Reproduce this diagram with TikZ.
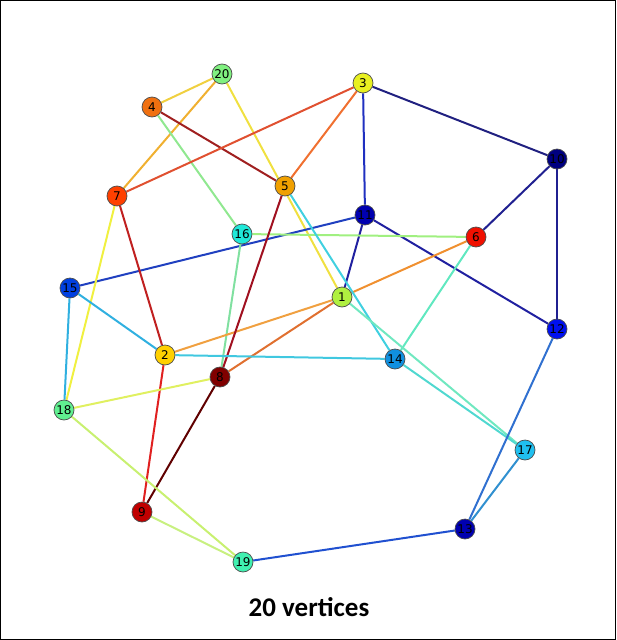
\documentclass[tikz,border=0pt]{standalone}
\usepackage{fontspec}
\setmainfont{Carlito}
\newfontfamily\vlabelfont{DejaVu Sans}
\usepackage{tikz}
\usetikzlibrary{backgrounds}

\definecolor{cNavy}{HTML}{000080}
\definecolor{cBlueD}{HTML}{0000B0}
\definecolor{cBlue}{HTML}{0010F0}
\definecolor{cBlueL}{HTML}{0040E0}
\definecolor{cAzure}{HTML}{1090E0}
\definecolor{cSky}{HTML}{20C0F0}
\definecolor{cCyan}{HTML}{20E8D8}
\definecolor{cAqua}{HTML}{40F0B0}
\definecolor{cMint}{HTML}{60F090}
\definecolor{cLGreen}{HTML}{80F080}
\definecolor{cLime}{HTML}{B0F040}
\definecolor{cYellow}{HTML}{E8F020}
\definecolor{cGold}{HTML}{FFD000}
\definecolor{cOrange}{HTML}{F0A000}
\definecolor{cDOrange}{HTML}{F07010}
\definecolor{cRedOr}{HTML}{FF4000}
\definecolor{cRed}{HTML}{F01000}
\definecolor{cDRed}{HTML}{C00000}
\definecolor{cMaroon}{HTML}{800000}

\begin{document}
\begin{tikzpicture}[
  x=1pt, y=-1pt,
  vtx/.style={circle, draw=black!70, line width=0.7pt, minimum size=20pt,
              inner sep=0pt, font=\vlabelfont\fontsize{12}{12}\selectfont},
  edge/.style={line width=2pt},
  title/.style={font=\bfseries\fontsize{27}{27}\selectfont}
]
\useasboundingbox (0,0) rectangle (616,640);
\draw[line width=1pt] (0.5,0.5) rectangle (615.5,639.5);

% vertices
\node[vtx, fill=cLGreen] (v20) at (222,74) {20};
\node[vtx, fill=cDOrange] (v4) at (152,107) {4};
\node[vtx, fill=cYellow] (v3) at (363,83) {3};
\node[vtx, fill=cNavy] (v10) at (557,159) {10};
\node[vtx, fill=cRedOr] (v7) at (117,196) {7};
\node[vtx, fill=cOrange] (v5) at (285,186) {5};
\node[vtx, fill=cBlueD] (v11) at (365,215) {11};
\node[vtx, fill=cCyan] (v16) at (242,234) {16};
\node[vtx, fill=cRed] (v6) at (476,237) {6};
\node[vtx, fill=cBlueL] (v15) at (70,288) {15};
\node[vtx, fill=cLime] (v1) at (342,297) {1};
\node[vtx, fill=cBlue] (v12) at (557,329) {12};
\node[vtx, fill=cGold] (v2) at (165,355) {2};
\node[vtx, fill=cAzure] (v14) at (395,359) {14};
\node[vtx, fill=cMaroon] (v8) at (220,377) {8};
\node[vtx, fill=cMint] (v18) at (64,410) {18};
\node[vtx, fill=cSky] (v17) at (525,450) {17};
\node[vtx, fill=cDRed] (v9) at (142,512) {9};
\node[vtx, fill=cBlueD] (v13) at (465,529) {13};
\node[vtx, fill=cAqua] (v19) at (243,562) {19};

% edges
\begin{scope}[on background layer]
\draw[edge, color={rgb,255:red,240;green,208;blue,64}] (v20) -- (v4);
\draw[edge, color={rgb,255:red,240;green,176;blue,48}] (v20) -- (v7);
\draw[edge, color={rgb,255:red,240;green,224;blue,64}] (v20) -- (v1);
\draw[edge, color={rgb,255:red,160;green,32;blue,32}] (v4) -- (v5);
\draw[edge, color={rgb,255:red,144;green,232;blue,144}] (v4) -- (v16);
\draw[edge, color={rgb,255:red,224;green,80;blue,48}] (v3) -- (v7);
\draw[edge, color={rgb,255:red,240;green,112;blue,48}] (v3) -- (v5);
\draw[edge, color={rgb,255:red,32;green,48;blue,192}] (v3) -- (v11);
\draw[edge, color={rgb,255:red,32;green,32;blue,128}] (v3) -- (v10);
\draw[edge, color={rgb,255:red,32;green,32;blue,144}] (v10) -- (v6);
\draw[edge, color={rgb,255:red,32;green,32;blue,144}] (v10) -- (v12);
\draw[edge, color={rgb,255:red,32;green,64;blue,192}] (v11) -- (v15);
\draw[edge, color={rgb,255:red,32;green,32;blue,160}] (v11) -- (v1);
\draw[edge, color={rgb,255:red,32;green,32;blue,160}] (v11) -- (v12);
\draw[edge, color={rgb,255:red,160;green,240;blue,128}] (v16) -- (v6);
\draw[edge, color={rgb,255:red,128;green,224;blue,160}] (v16) -- (v8);
\draw[edge, color={rgb,255:red,192;green,32;blue,32}] (v7) -- (v2);
\draw[edge, color={rgb,255:red,240;green,240;blue,64}] (v7) -- (v18);
\draw[edge, color={rgb,255:red,240;green,144;blue,48}] (v6) -- (v1);
\draw[edge, color={rgb,255:red,240;green,160;blue,64}] (v1) -- (v2);
\draw[edge, color={rgb,255:red,224;green,112;blue,48}] (v1) -- (v8);
\draw[edge, color={rgb,255:red,160;green,16;blue,32}] (v5) -- (v8);
\draw[edge, color={rgb,255:red,64;green,208;blue,224}] (v5) -- (v14);
\draw[edge, color={rgb,255:red,96;green,232;blue,192}] (v6) -- (v14);
\draw[edge, color={rgb,255:red,112;green,232;blue,192}] (v1) -- (v17);
\draw[edge, color={rgb,255:red,80;green,216;blue,208}] (v14) -- (v17);
\draw[edge, color={rgb,255:red,48;green,176;blue,224}] (v15) -- (v2);
\draw[edge, color={rgb,255:red,48;green,176;blue,224}] (v15) -- (v18);
\draw[edge, color={rgb,255:red,64;green,200;blue,224}] (v2) -- (v14);
\draw[edge, color={rgb,255:red,224;green,32;blue,32}] (v2) -- (v9);
\draw[edge, color={rgb,255:red,96;green,0;blue,0}] (v8) -- (v9);
\draw[edge, color={rgb,255:red,224;green,240;blue,96}] (v8) -- (v18);
\draw[edge, color={rgb,255:red,200;green,240;blue,112}] (v18) -- (v19);
\draw[edge, color={rgb,255:red,200;green,240;blue,128}] (v9) -- (v19);
\draw[edge, color={rgb,255:red,32;green,80;blue,208}] (v19) -- (v13);
\draw[edge, color={rgb,255:red,48;green,144;blue,208}] (v13) -- (v17);
\draw[edge, color={rgb,255:red,48;green,112;blue,208}] (v13) -- (v12);
\end{scope}

\node[title] (cap) at (309,607) {20 vertices};
\end{tikzpicture}
\end{document}
